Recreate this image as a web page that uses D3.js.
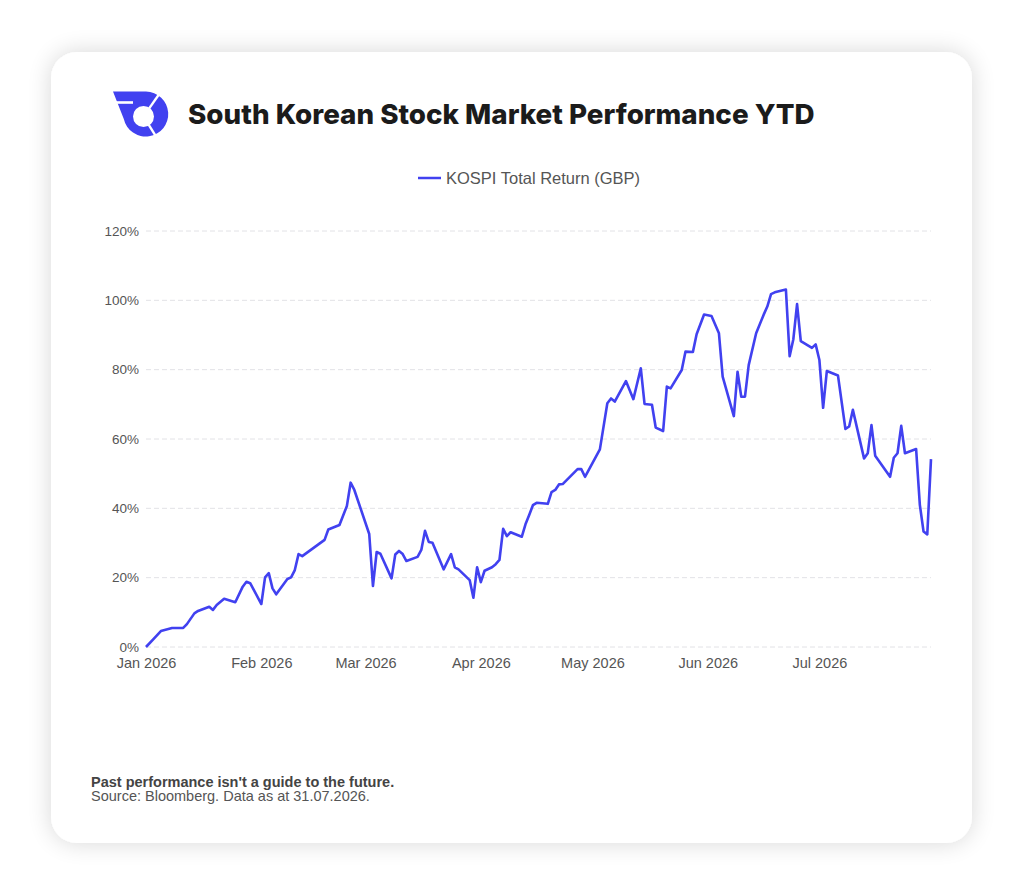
<!DOCTYPE html>
<html>
<head>
<meta charset="utf-8">
<script src="https://cdn.jsdelivr.net/npm/d3@7"></script>
<style>
  html, body { margin: 0; padding: 0; background: #ffffff; }
  svg { display: block; }
</style>
</head>
<body>
<svg id="chart" width="1024" height="896"></svg>
<script>
// KOSPI total return in GBP, % since 1 Jan 2026
const dates = [
  "01-01","01-03","01-05","01-06","01-08","01-11","01-12","01-14","01-15","01-18",
  "01-19","01-20","01-22","01-25","01-27","01-28","01-29","02-01","02-02","02-03",
  "02-04","02-05","02-08","02-09","02-10","02-11","02-12","02-18","02-19","02-22",
  "02-24","02-25","02-26","03-02","03-03","03-04","03-05","03-08","03-09","03-10",
  "03-11","03-12","03-15","03-16","03-17","03-18","03-19","03-22","03-24","03-25",
  "03-26","03-29","03-30","03-31","04-01","04-02","04-04","04-05","04-06","04-07",
  "04-08","04-09","04-12","04-13","04-14","04-15","04-16","04-19","04-20","04-21",
  "04-22","04-23","04-27","04-28","04-29","05-03","05-05","05-06","05-07","05-10",
  "05-12","05-14","05-15","05-17","05-18","05-20","05-21","05-22","05-25","05-26",
  "05-28","05-29","05-31","06-02","06-04","06-05","06-08","06-09","06-10","06-11",
  "06-12","06-14","06-16","06-17","06-18","06-19","06-22","06-23","06-24","06-25",
  "06-26","06-29","06-30","07-01","07-02","07-03","07-06","07-08","07-09","07-10",
  "07-13","07-14","07-15","07-16","07-20","07-21","07-22","07-23","07-24","07-27",
  "07-28","07-29","07-30","07-31"
];
const returns = [
  0.0, 2.3, 4.6, 4.9, 5.5, 5.5, 6.6, 9.7, 10.4, 11.6,
  10.7, 12.1, 13.9, 12.9, 17.4, 18.8, 18.4, 12.4, 20.1, 21.3,
  16.9, 15.2, 19.6, 20.1, 22.2, 26.8, 26.2, 30.9, 33.9, 35.2,
  40.7, 47.4, 45.3, 32.6, 17.6, 27.4, 26.9, 19.8, 26.7, 27.7,
  26.8, 24.8, 26.0, 28.0, 33.5, 30.3, 30.1, 22.4, 26.8, 23.0,
  22.4, 19.3, 14.2, 23.0, 18.7, 22.0, 23.0, 23.9, 25.1, 34.1,
  32.0, 33.1, 31.8, 35.4, 38.1, 40.9, 41.6, 41.3, 44.7, 45.3,
  46.9, 47.0, 51.3, 51.3, 49.1, 57.0, 70.3, 71.7, 70.8, 76.7,
  71.5, 80.4, 70.1, 69.9, 63.3, 62.3, 75.1, 74.6, 79.9, 85.2,
  85.1, 90.2, 95.9, 95.5, 90.5, 78.0, 66.6, 79.4, 72.2, 72.2,
  81.3, 90.5, 95.8, 98.2, 101.8, 102.3, 103.1, 83.9, 88.8, 98.9,
  88.2, 86.3, 87.3, 82.8, 69.0, 79.6, 78.3, 62.9, 63.6, 68.4,
  54.4, 55.9, 64.0, 55.2, 49.1, 54.6, 55.9, 63.8, 55.9, 57.1,
  41.0, 33.3, 32.5, 54.2
];
const yTicks = [0, 20, 40, 60, 80, 100, 120];
const seriesName = "KOSPI Total Return (GBP)";
const titleText = "South Korean Stock Market Performance YTD";
const noteBold = "Past performance isn't a guide to the future.";
const noteSource = "Source: Bloomberg. Data as at 31.07.2026.";

const blue = "#4141f0";
const parse = d3.timeParse("%Y-%m-%d");
const data = dates.map((d, i) => ({ date: parse("2026-" + d), value: returns[i] }));

const svg = d3.select("#chart");
const sans = "'Liberation Sans', Arial, Helvetica, sans-serif";

// card with soft shadow
const defs = svg.append("defs");
const f = defs.append("filter").attr("id", "shadow")
  .attr("x", "-10%").attr("y", "-10%").attr("width", "120%").attr("height", "120%");
f.append("feGaussianBlur").attr("in", "SourceAlpha").attr("stdDeviation", 12);
f.append("feComponentTransfer").append("feFuncA").attr("type", "linear").attr("slope", 0.16);
const fm = f.append("feMerge");
fm.append("feMergeNode");
fm.append("feMergeNode").attr("in", "SourceGraphic");

svg.append("rect")
  .attr("x", 51).attr("y", 52).attr("width", 921).attr("height", 791)
  .attr("rx", 26).attr("fill", "#ffffff")
  .attr("filter", "url(#shadow)");

// logo
const logo = svg.append("g").attr("fill", blue);
logo.append("path").attr("d", "M113,91.5 L146,91.5 A22.5,22.5 0 1 1 123.8,119 Z");
logo.append("circle").attr("cx", 143.5).attr("cy", 116.5).attr("r", 10.5).attr("fill", "#fff");
logo.append("line").attr("x1", 116).attr("y1", 102.5).attr("x2", 133).attr("y2", 102.5)
  .attr("stroke", "#fff").attr("stroke-width", 2.6);
[-55, 58].forEach(a => {
  const r = a * Math.PI / 180;
  logo.append("line")
    .attr("x1", 143.5 + 9 * Math.cos(r)).attr("y1", 116.5 + 9 * Math.sin(r))
    .attr("x2", 143.5 + 32 * Math.cos(r)).attr("y2", 116.5 + 32 * Math.sin(r))
    .attr("stroke", "#fff").attr("stroke-width", 2.4);
});

// title
const title = svg.append("text")
  .attr("x", 188).attr("y", 124)
  .attr("font-family", "Inter, 'Noto Sans', sans-serif")
  .attr("font-weight", 800).attr("font-size", 26)
  .attr("fill", "#1b1b1b")
  .text(titleText);
const tw = title.node().getComputedTextLength();
title.attr("font-size", 26 * 627 / tw);

// legend
const lg = svg.append("g").attr("transform", "translate(418,178)");
lg.append("line").attr("x1", 0).attr("x2", 23).attr("y1", 0).attr("y2", 0)
  .attr("stroke", blue).attr("stroke-width", 2.5);
lg.append("text").attr("x", 28).attr("y", 6)
  .attr("font-family", sans).attr("font-size", 16.5).attr("fill", "#555")
  .text(seriesName);

// scales
const x = d3.scaleTime()
  .domain([parse("2026-01-01"), parse("2026-07-31")])
  .range([146, 931]);
const y = d3.scaleLinear().domain([0, 120]).range([647, 231]);

// grid
svg.append("g")
  .selectAll("line")
  .data(yTicks)
  .join("line")
  .attr("x1", 146).attr("x2", 931)
  .attr("y1", d => y(d)).attr("y2", d => y(d))
  .attr("stroke", "#e2e2e6").attr("stroke-width", 1)
  .attr("stroke-dasharray", "5,3");

// y axis
const yAxis = svg.append("g")
  .attr("transform", "translate(146,0)")
  .call(d3.axisLeft(y).tickValues(yTicks).tickSize(0).tickPadding(7).tickFormat(d => d + "%"));
yAxis.select(".domain").remove();
yAxis.selectAll("text").attr("font-family", sans).attr("font-size", 13.5).attr("fill", "#555");

// x axis
const xAxis = svg.append("g")
  .attr("transform", "translate(0,647)")
  .call(d3.axisBottom(x).ticks(d3.timeMonth.every(1)).tickSize(0).tickPadding(10.5)
    .tickFormat(d3.timeFormat("%b %Y")));
xAxis.select(".domain").remove();
xAxis.selectAll("text").attr("font-family", sans).attr("font-size", 14.5).attr("fill", "#555");

// line
const line = d3.line().x(d => x(d.date)).y(d => y(d.value));
svg.append("path")
  .datum(data)
  .attr("fill", "none")
  .attr("stroke", blue)
  .attr("stroke-width", 2.6)
  .attr("stroke-linejoin", "round")
  .attr("d", line);

// footnotes
svg.append("text").attr("x", 91).attr("y", 786.5)
  .attr("font-family", sans).attr("font-size", 14.5).attr("font-weight", 700).attr("fill", "#444")
  .text(noteBold);
svg.append("text").attr("x", 91).attr("y", 800.5)
  .attr("font-family", sans).attr("font-size", 14.5).attr("fill", "#555")
  .text(noteSource);
</script>
</body>
</html>
